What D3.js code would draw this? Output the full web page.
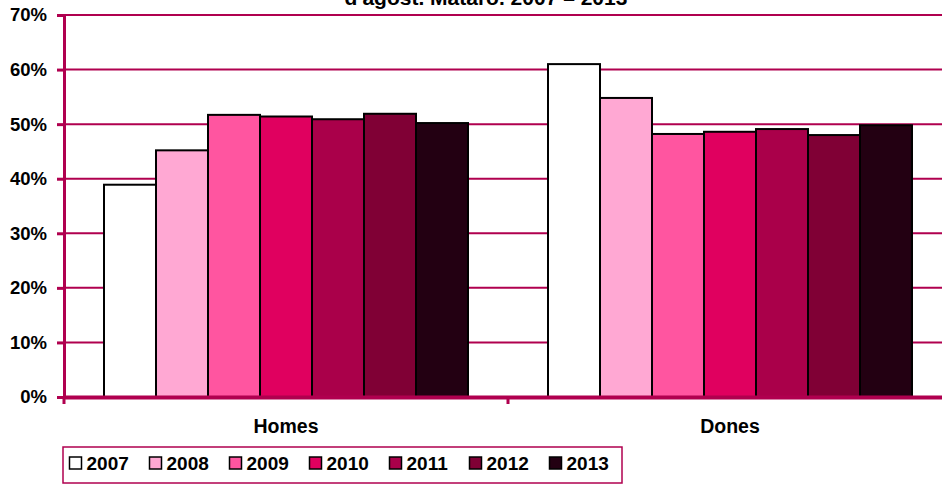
<!DOCTYPE html>
<html>
<head>
  <meta charset="utf-8">
  <title>Mataró 2007 - 2013</title>
  <script src="https://d3js.org/d3.v7.min.js"></script>
  <style>
    body { margin: 0; background: #fff; }
    svg { display: block; font-family: "Liberation Sans", Arial, sans-serif; }
    .ylab { font-size: 18.5px; font-weight: bold; fill: #000; }
    .xlab { font-size: 19.5px; font-weight: bold; fill: #000; }
    .leg { font-size: 19px; font-weight: bold; fill: #000; }
  </style>
</head>
<body>
  <svg id="chart"></svg>
  <script>
    // Data
    var categories = ["Homes", "Dones"];
    var years = ["2007", "2008", "2009", "2010", "2011", "2012", "2013"];
    var homes = [38.9, 45.2, 51.7, 51.4, 50.9, 51.9, 50.2];
    var dones = [61.0, 54.8, 48.2, 48.6, 49.1, 48.0, 49.8];
    var yTicks = [0, 10, 20, 30, 40, 50, 60, 70];
    var colors = ["#ffffff", "#ffa8d3", "#ff55a0", "#e0005f", "#aa004a", "#800035", "#230012"];

    var W = 942, H = 484;
    var margin = {top: 15, left: 64, bottom: 87, right: -10};
    var axisColor = "#b0004f";

    var svg = d3.select("#chart").attr("width", W).attr("height", H);

    var x0 = d3.scaleBand().domain(categories).range([margin.left, W - margin.right]).padding(0);
    var x1 = d3.scaleBand().domain(years).range([40, x0.bandwidth() - 40]).padding(0);
    var y = d3.scaleLinear().domain([0, 70]).range([H - margin.bottom, margin.top]);

    // Title (its upper part lies outside the frame, as in the original)
    svg.append("text")
      .attr("x", 486).attr("y", 5)
      .attr("text-anchor", "middle")
      .style("font-size", "21px").style("font-weight", "bold")
      .text("d'agost. Mataró. 2007 – 2013");

    // Gridlines
    svg.append("g").selectAll("line")
      .data(yTicks.filter(d => d > 0))
      .enter().append("line")
      .attr("x1", margin.left).attr("x2", W)
      .attr("y1", d => y(d)).attr("y2", d => y(d))
      .attr("stroke", axisColor).attr("stroke-width", 2);

    // Bars
    var series = {Homes: homes, Dones: dones};
    categories.forEach(function(cat) {
      svg.append("g")
        .attr("transform", "translate(" + x0(cat) + ",0)")
        .selectAll("rect")
        .data(series[cat])
        .enter().append("rect")
        .attr("x", (d, i) => x1(years[i]))
        .attr("y", d => y(d))
        .attr("width", x1.bandwidth())
        .attr("height", d => y(0) - y(d))
        .attr("fill", (d, i) => colors[i])
        .attr("stroke", "#000").attr("stroke-width", 2);
    });

    // Y axis
    var yAxis = svg.append("g")
      .attr("transform", "translate(" + margin.left + ",0)")
      .call(d3.axisLeft(y).tickValues(yTicks).tickFormat(d => d + "%").tickSize(7).tickPadding(10));
    yAxis.select(".domain").attr("stroke", axisColor).attr("stroke-width", 3);
    yAxis.selectAll(".tick line").attr("stroke", axisColor).attr("stroke-width", 3);
    yAxis.selectAll(".tick text").attr("class", "ylab").attr("font-family", null).attr("font-size", null);
    yAxis.attr("font-family", null).attr("font-size", null);

    // X axis
    var xAxis = svg.append("g")
      .attr("transform", "translate(0," + y(0) + ")")
      .call(d3.axisBottom(x0).tickSize(0).tickPadding(22));
    xAxis.attr("font-family", null).attr("font-size", null);
    xAxis.select(".domain").attr("stroke", axisColor).attr("stroke-width", 4);
    xAxis.selectAll(".tick text").attr("class", "xlab");
    // category separator ticks
    xAxis.selectAll(".sep")
      .data([x0.range()[0], x0(categories[1])])
      .enter().append("line")
      .attr("x1", d => d).attr("x2", d => d)
      .attr("y1", 0).attr("y2", 7)
      .attr("stroke", axisColor).attr("stroke-width", 3);

    // Legend
    var legend = svg.append("g").attr("transform", "translate(63,447)");
    legend.append("rect")
      .attr("x", 0).attr("y", 0).attr("width", 559).attr("height", 36)
      .attr("fill", "none").attr("stroke", axisColor).attr("stroke-width", 1.5);
    var items = legend.selectAll(".item")
      .data(years).enter().append("g")
      .attr("transform", (d, i) => "translate(" + (6.5 + i * 80) + ",0)");
    items.append("rect")
      .attr("width", 12).attr("height", 12).attr("y", 10)
      .attr("fill", (d, i) => colors[i])
      .attr("stroke", "#000").attr("stroke-width", 1.5);
    items.append("text")
      .attr("x", 17).attr("y", 22.5)
      .attr("class", "leg")
      .text(d => d);
  </script>
</body>
</html>
